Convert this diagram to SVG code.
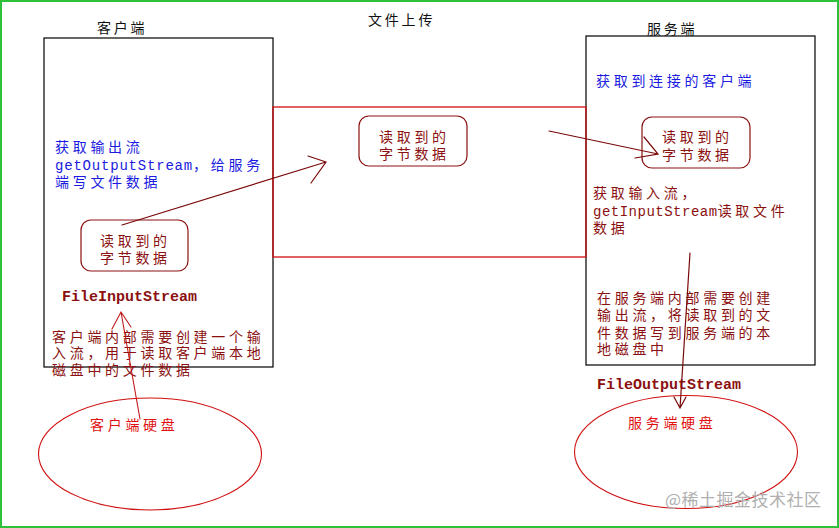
<svg xmlns="http://www.w3.org/2000/svg" width="839" height="528" viewBox="0 0 839 528">
<style>
text{font-family:"Noto Sans CJK SC","Liberation Sans",sans-serif;font-size:14px;letter-spacing:3.7px}
.en{font-family:"Liberation Mono","Noto Sans CJK SC",monospace;letter-spacing:0.8px}
.title{fill:#111;letter-spacing:2.8px}
.blue{fill:#1a1ae0}
.dark{fill:#8b1010}
.red{fill:#e01010}
.box{fill:none;stroke:#000;stroke-width:1.2}
.pipe{fill:none;stroke:#d01010;stroke-width:1.3}
.rr{fill:none;stroke:#8b1010;stroke-width:1.2}
.disk{fill:none;stroke:#d01010;stroke-width:1.1}
.conn{fill:none;stroke:#7a0a0a;stroke-width:1.2;stroke-linecap:round}
.conn2{fill:none;stroke:#c01818;stroke-width:1.1;stroke-linecap:round}
.stream{font-family:"Liberation Mono",monospace;font-size:15px;letter-spacing:0;fill:#8b1010;font-weight:bold}
.wm{fill:#b0b0b0;font-size:17px;letter-spacing:0.5px}
</style>
<rect x="1" y="1" width="837" height="526" fill="#fff" stroke="#2ec23a" stroke-width="2"/>
<text x="368" y="25" class="title">文件上传</text>
<g id="client">
<rect class="box" x="44" y="38" width="229" height="329"/>
<text x="97" y="33" class="title">客户端</text>
<text class="blue"><tspan x="55" y="152">获取输出流</tspan><tspan x="55" y="170" class="en">getOutputStream</tspan><tspan>，给服务</tspan><tspan x="55" y="187">端写文件数据</tspan></text>
<text x="62" y="301" class="stream">FileInputStream</text>
<text class="dark"><tspan x="52" y="342">客户端内部需要创建一个输</tspan><tspan x="52" y="358">入流，用于读取客户端本地</tspan><tspan x="52" y="375">磁盘中的文件数据</tspan></text>
</g>
<g id="server">
<rect class="box" x="586" y="36" width="229" height="329"/>
<text x="647" y="34" class="title">服务端</text>
<text x="596" y="86" class="blue">获取到连接的客户端</text>
<text class="dark"><tspan x="593" y="198">获取输入流，</tspan><tspan x="593" y="216" class="en" style="letter-spacing:0.5px">getInputStream</tspan><tspan>读取文件</tspan><tspan x="593" y="233">数据</tspan></text>
<text class="dark"><tspan x="597" y="303">在服务端内部需要创建</tspan><tspan x="597" y="320">输出流，将读取到的文</tspan><tspan x="597" y="338">件数据写到服务端的本</tspan><tspan x="597" y="354">地磁盘中</tspan></text>
<text x="597" y="389" class="stream">FileOutputStream</text>
</g>
<g id="channel">
<rect class="pipe" x="273" y="107" width="313" height="150"/>
</g>
<g id="bytes-client">
<rect class="rr" x="81" y="220" width="107" height="51" rx="10"/>
<text class="dark"><tspan x="100" y="246">读取到的</tspan><tspan x="100" y="263">字节数据</tspan></text>
</g>
<g id="bytes-middle">
<rect class="rr" x="359" y="116" width="108" height="50" rx="10"/>
<text class="dark"><tspan x="379" y="142">读取到的</tspan><tspan x="379" y="159">字节数据</tspan></text>
</g>
<g id="bytes-server">
<rect class="rr" x="642" y="117" width="108" height="51" rx="10"/>
<text class="dark"><tspan x="662" y="142">读取到的</tspan><tspan x="662" y="160">字节数据</tspan></text>
</g>
<g id="client-disk">
<ellipse class="disk" cx="150" cy="454" rx="111.5" ry="56"/>
<text x="90" y="430" class="red">客户端硬盘</text>
</g>
<g id="server-disk">
<ellipse class="disk" cx="686" cy="452" rx="111.5" ry="56.5"/>
<text x="628" y="428" class="red">服务端硬盘</text>
</g>
<g id="connectors">
<path class="conn" d="M122 225 L326 162 M308 156 L326 162 L311 183"/>
<path class="conn" d="M549 131 L658 154 M644 137 L658 154 L635 158"/>
<path class="conn2" d="M140 419 L121 312 M112 329 L121 312 L131 327"/>
<path class="conn" d="M690 253 L680 408 M674 397 L680 408 L686 397"/>
</g>
<text x="665" y="506" class="wm">@稀土掘金技术社区</text>
</svg>
